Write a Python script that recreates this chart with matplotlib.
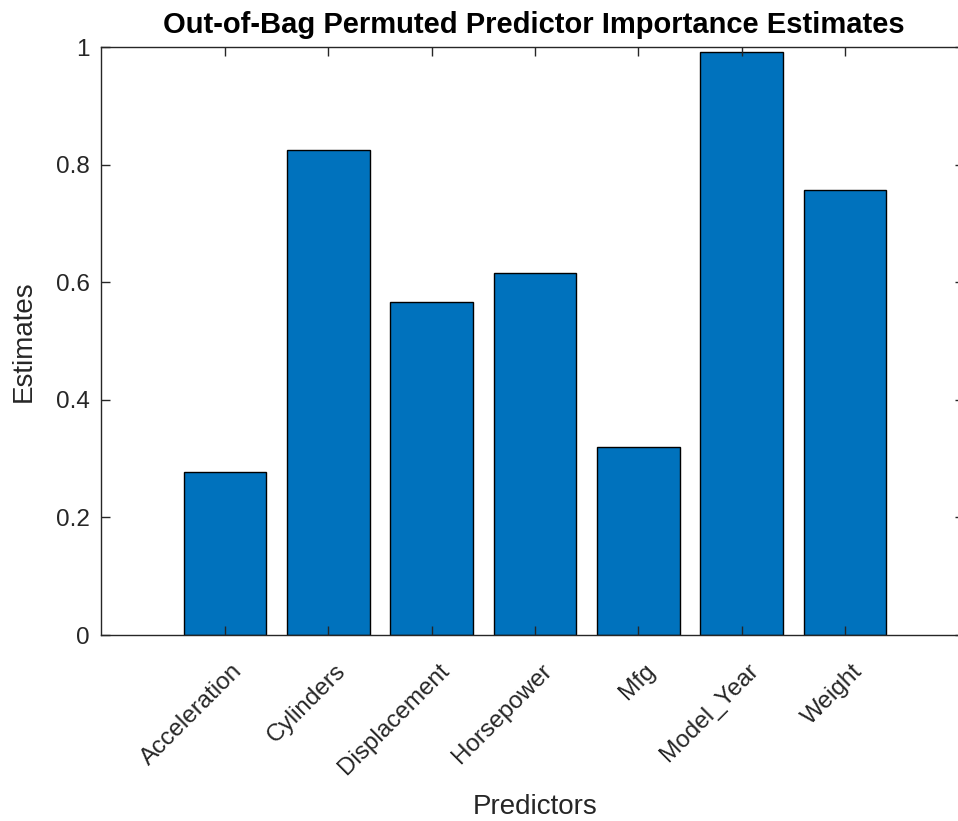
import matplotlib
matplotlib.use('Agg')
import matplotlib.pyplot as plt
import matplotlib.transforms as mtransforms
import numpy as np

# predictor importance
predictors = ['Acceleration', 'Cylinders', 'Displacement', 'Horsepower',
              'Mfg', 'Model_Year', 'Weight']
estimates = [0.277, 0.825, 0.566, 0.616, 0.320, 0.991, 0.756]
yticks = [0, 0.2, 0.4, 0.6, 0.8, 1]

plt.rcParams['font.family'] = ['Liberation Sans', 'DejaVu Sans']

bar_color = '#0072BD'
axis_color = '#262626'

W, H = 958, 821
fig = plt.figure(figsize=(W / 100, H / 100), dpi=100)
# axes box runs a little past the right edge of the figure, as in the reference
left, right, bottom, top = 101, 964, 635, 47
ax = fig.add_axes([left / W, 1 - bottom / H, (right - left) / W, (bottom - top) / H])

x = np.arange(1, len(predictors) + 1)
ax.bar(x, estimates, width=0.8, color=bar_color, edgecolor='black', linewidth=1.0)

ax.set_xlim(-0.2, 8.15)
ax.set_ylim(0, 1)
ax.set_xticks(x)
ax.set_xticklabels(predictors, rotation=45, ha='right', va='top',
                   rotation_mode='anchor')
ax.set_yticks(yticks)
ax.set_yticklabels(['0', '0.2', '0.4', '0.6', '0.8', '1'])

for s in ax.spines.values():
    s.set_color(axis_color)
    s.set_linewidth(1.0)
ax.tick_params(direction='in', length=6.5, width=1.0, color=axis_color,
               labelcolor=axis_color, labelsize=17.5,
               top=True, right=True)
ax.tick_params(axis='x', pad=0)
ax.tick_params(axis='y', pad=8)

# shift rotated tick labels so their upper end sits just right of the tick
offset = mtransforms.ScaledTranslation(0.06, -0.25, fig.dpi_scale_trans)
for lab in ax.get_xticklabels():
    lab.set_transform(lab.get_transform() + offset)

ax.set_xlabel('Predictors', fontsize=20, color=axis_color, va='top')
ax.xaxis.set_label_coords((535 - left) / (right - left), -(794 - bottom) / (bottom - top))
ax.set_ylabel('Estimates', fontsize=20, color=axis_color)
ax.yaxis.set_label_coords(-(left - 37) / (right - left), 0.5)
ax.set_title('Out-of-Bag Permuted Predictor Importance Estimates',
             fontsize=21, fontweight='bold', color='black', pad=10,
             x=(534 - left) / (right - left))

fig.savefig('out.png', dpi=100)
